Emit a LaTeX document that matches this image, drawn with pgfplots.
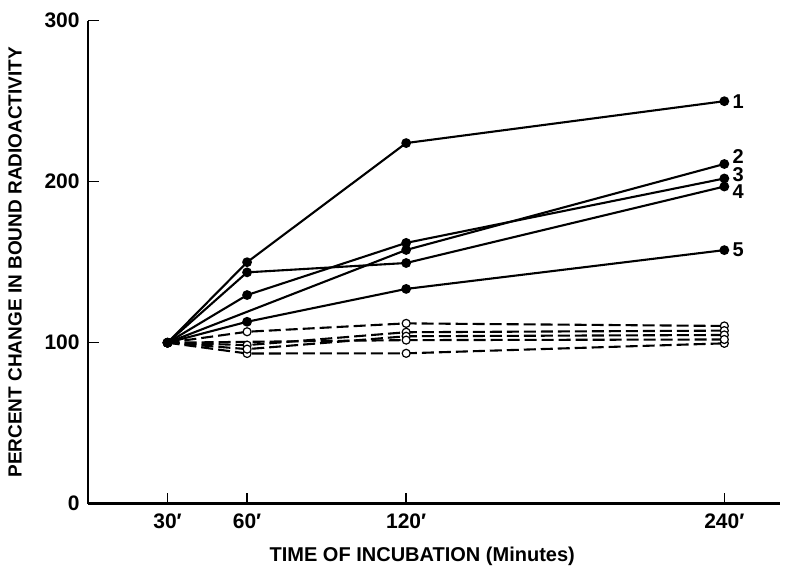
\documentclass[border=0pt]{standalone}
\usepackage{fontspec}
\setmainfont{Liberation Sans}
\usepackage{pgfplots}
\pgfplotsset{compat=1.18}
\begin{document}
\begin{tikzpicture}
\begin{axis}[
  name=ax,
  scale only axis, width=346pt, height=241.5pt,
  xmin=0, xmax=261, ymin=0, ymax=300,
  axis x line=bottom, axis y line=left,
  axis line style={-, line width=1.4pt},
  xtick={30,60,120,240}, xticklabels={30′,60′,120′,240′},
  ytick={0,100,200,300},
  tick align=inside, major tick length=5.5pt,
  tick style={line width=0.7pt, black},
  /pgf/number format/assume math mode=true,
  xticklabel style={font=\bfseries\fontsize{10.5}{12}\selectfont, anchor=center, yshift=-9pt},
  yticklabel style={font=\bfseries\fontsize{10.5}{12}\selectfont, anchor=east, inner sep=0pt, xshift=-4pt},
  xlabel={TIME OF INCUBATION (Minutes)},
  ylabel={PERCENT CHANGE IN BOUND RADIOACTIVITY},
  xlabel style={font=\bfseries\fontsize{10}{12}\selectfont,
    at={(axis description cs:0.483,0)}, anchor=center, yshift=-26.5pt},
  ylabel style={font=\bfseries\fontsize{9.5}{11}\selectfont,
    at={(axis description cs:-0.1055,0.5)}, anchor=center},
  clip=false,
  solid/.style={black, line width=1.05pt, mark=*, mark size=1.9pt},
  open/.style={black, line width=1.05pt, dash pattern=on 6pt off 2.5pt, mark=*,
    mark size=2pt, mark options={solid, fill=white, line width=0.6pt}},
]
% dashed series (open circles)
\addplot[open] coordinates {(30,100) (60,93.3) (120,93.4) (240,99.6)};
\addplot[open] coordinates {(30,100) (60,106.8) (120,112) (240,110.4)};
\addplot[open] coordinates {(30,100) (60,98.5) (120,106.5) (240,107.5)};
\addplot[open] coordinates {(30,100) (60,96) (120,104) (240,104.8)};
\addplot[open] coordinates {(30,100) (120,101.6) (240,102)};
% solid series (filled circles)
\addplot[solid] coordinates {(30,100) (60,150) (120,224) (240,250)};
\addplot[solid] coordinates {(30,100) (120,157.6) (240,211)};
\addplot[solid] coordinates {(30,100) (60,129.6) (120,162) (240,202)};
\addplot[solid] coordinates {(30,100) (60,143.7) (120,149.5) (240,197)};
\addplot[solid] coordinates {(30,100) (60,113) (120,133.4) (240,157.5)};
\begin{scope}[font=\bfseries\fontsize{10}{11}\selectfont, inner sep=0pt]
\node[anchor=west] at (axis cs:243,250) {1};
\node[anchor=west] at (axis cs:243,215.5) {2};
\node[anchor=west] at (axis cs:243,204.5) {3};
\node[anchor=west] at (axis cs:243,194) {4};
\node[anchor=west] at (axis cs:243,158) {5};
\end{scope}
\end{axis}
\pgfresetboundingbox
\path (ax.south west) ++(-44pt,-31.65pt) rectangle ([shift={(5pt,10.35pt)}]ax.north east);
\end{tikzpicture}
\end{document}
